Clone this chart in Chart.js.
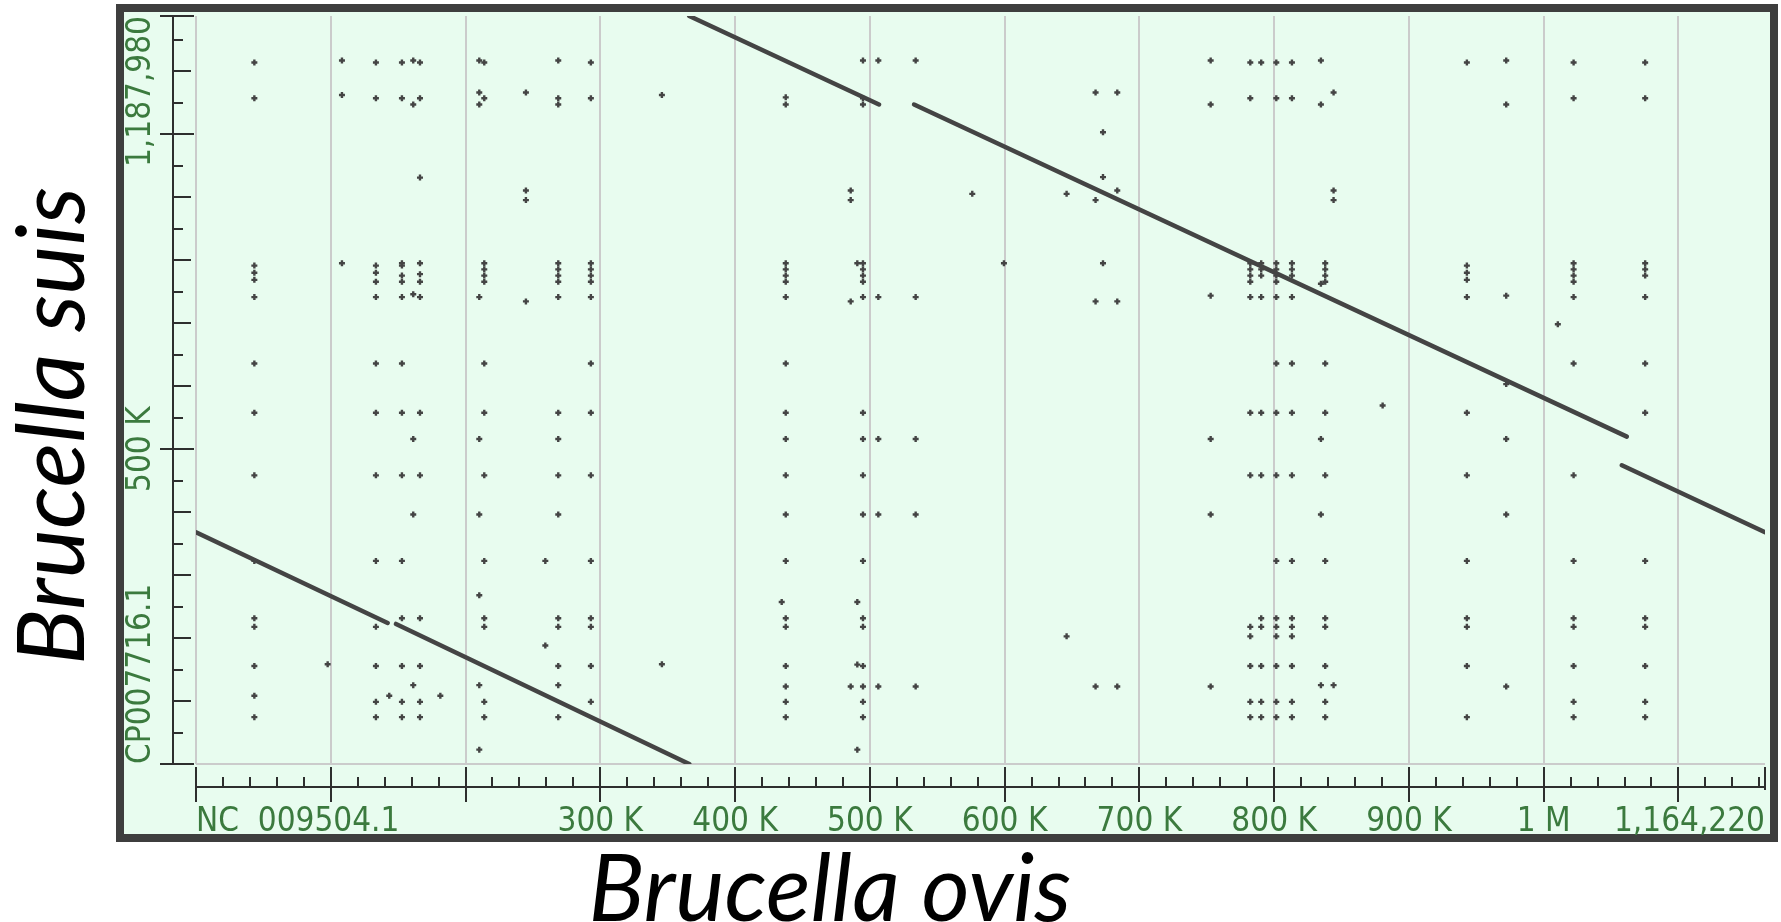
<!DOCTYPE html>
<html>
<head>
<meta charset="utf-8">
<script src="https://cdn.jsdelivr.net/npm/chart.js@4.4.1/dist/chart.umd.min.js"></script>
<style>
  html, body { margin: 0; padding: 0; background: #fff; }
  #wrap { width: 1781px; height: 922px; }
</style>
</head>
<body>
<div id="wrap"><canvas id="dotplot" width="1781" height="922"></canvas></div>
<script>
// genome lengths (kb)
const xMaxKb = 1164.22;   // NC_009504.1 (B. ovis)
const yMaxKb = 1187.98;   // CP007716.1 (B. suis)

// axis tick labels
const xLabelValues = [300, 400, 500, 600, 700, 800, 900, 1000];
const xLabelTexts = ["300 K", "400 K", "500 K", "600 K", "700 K", "800 K", "900 K", "1 M"];
const yLabelValues = [500];
const yLabelTexts = ["500 K"];

// alignment segments (kb)
const segX1 = [0, 148.4, 366.0, 532.8, 1058.0];
const segY1 = [368.1, 222.4, 1187.98, 1047.4, 474.4];
const segX2 = [142.2, 366.0, 506.8, 1061.7, 1164.22];
const segY2 = [223.9, 0, 1047.4, 519.9, 368.1];

// repeat hits: x position (kb) of each column and the y hits (kb) in it
const dotCols = [43.3, 97.7, 108.3, 133.5, 143.4, 152.8, 161.2, 166.2, 181.3, 210.2,
  213.9, 244.8, 259.2, 268.8, 293.0, 345.7, 434.6, 437.6, 485.8, 490.7,
  494.9, 506.3, 534.0, 576.0, 599.5, 646.0, 667.5, 673.0, 683.6, 752.9,
  782.3, 790.4, 801.6, 813.2, 834.7, 837.9, 844.1, 880.5, 943.0, 972.2,
  1010.5, 1022.2, 1075.3];
const dotRows = [
  [1114.2, 1057.3, 791.6, 780.3, 768.9, 741.5, 636.0, 557.9, 458.4, 322.6, 231.5, 217.8, 155.6, 108.5, 74.4],
  [158.5],
  [1117.2, 1062.6, 795.4],
  [1114.2, 1057.3, 791.6, 780.3, 765.8, 741.5, 636.0, 557.9, 458.4, 322.6, 217.8, 155.6, 98.7, 74.4],
  [108.5],
  [1114.2, 1057.3, 795.4, 791.6, 775.7, 765.8, 741.5, 636.0, 557.9, 458.4, 322.6, 231.5, 155.6, 98.7, 74.4],
  [1117.2, 1047.4, 746.1, 516.1, 396.2, 125.2],
  [1114.2, 1057.3, 931.3, 795.4, 778.0, 765.8, 741.5, 557.9, 458.4, 231.5, 155.6, 98.7, 74.4],
  [108.5],
  [1117.2, 1066.4, 1047.4, 741.5, 516.1, 396.2, 267.9, 125.2, 22.8],
  [1114.2, 1057.3, 795.4, 785.6, 775.7, 765.8, 636.0, 557.9, 458.4, 322.6, 231.5, 217.8, 98.7, 74.4],
  [1066.4, 910.8, 895.6, 734.7],
  [322.6, 188.2],
  [1117.2, 1057.3, 1047.4, 795.4, 785.6, 775.7, 765.8, 741.5, 557.9, 516.1, 458.4, 396.2, 231.5, 217.8, 155.6, 125.2, 74.4],
  [1114.2, 1057.3, 795.4, 785.6, 775.7, 765.8, 741.5, 636.0, 557.9, 458.4, 322.6, 231.5, 217.8, 155.6, 98.7],
  [1062.6, 158.5],
  [257.3],
  [1058.8, 1047.4, 795.4, 785.6, 775.7, 765.8, 741.5, 636.0, 557.9, 516.1, 458.4, 396.2, 322.6, 231.5, 217.8, 155.6, 123.0, 98.7, 74.4],
  [910.8, 895.6, 734.7, 123.0],
  [795.4, 257.3, 157.9, 22.8],
  [1117.2, 1057.3, 1047.4, 795.4, 785.6, 775.7, 765.8, 741.5, 557.9, 516.1, 458.4, 396.2, 322.6, 231.5, 217.8, 155.6, 123.0, 98.7, 74.4],
  [1117.2, 741.5, 516.1, 396.2, 123.0],
  [1117.2, 741.5, 516.1, 396.2, 123.0],
  [905.5],
  [795.4],
  [905.5, 202.7],
  [1066.4, 895.6, 734.7, 123.0],
  [1003.4, 932.1, 795.4],
  [1066.4, 910.8, 734.7, 123.0],
  [1117.2, 1047.4, 743.8, 516.1, 396.2, 123.0],
  [1114.2, 1057.3, 795.4, 785.6, 775.7, 765.8, 741.5, 557.9, 458.4, 217.8, 202.7, 155.6, 98.7, 74.4],
  [1114.2, 795.4, 785.6, 775.7, 741.5, 557.9, 458.4, 231.5, 217.8, 155.6, 98.7, 74.4],
  [1114.2, 1057.3, 795.4, 785.6, 775.7, 765.8, 741.5, 636.0, 557.9, 458.4, 322.6, 231.5, 217.8, 202.7, 155.6, 98.7, 74.4],
  [1114.2, 1057.3, 795.4, 785.6, 775.7, 741.5, 636.0, 557.9, 458.4, 322.6, 231.5, 217.8, 202.7, 155.6, 98.7, 74.4],
  [1117.2, 1047.4, 762.8, 516.1, 396.2, 125.2],
  [795.4, 785.6, 775.7, 765.8, 636.0, 557.9, 458.4, 322.6, 231.5, 217.8, 155.6, 98.7, 74.4],
  [1066.4, 910.8, 895.6, 125.2],
  [569.3],
  [1114.2, 791.6, 780.3, 768.9, 741.5, 557.9, 458.4, 322.6, 231.5, 217.8, 155.6, 74.4],
  [1117.2, 1047.4, 743.8, 603.4, 516.1, 396.2, 123.0],
  [698.3],
  [1114.2, 1057.3, 795.4, 785.6, 775.7, 765.8, 741.5, 636.0, 458.4, 322.6, 231.5, 217.8, 155.6, 98.7, 74.4],
  [1114.2, 1057.3, 795.4, 785.6, 775.7, 741.5, 636.0, 557.9, 322.6, 231.5, 217.8, 155.6, 98.7, 74.4]
];

const PAGE_BG = "#e8fcef";
const GRID = "#cbcbcb";
const INK = "#2e2e2e";
const LABEL = "#3b7a3e";
const MARK = "#444444";

const isMult = (v, s) => Math.abs(v / s - Math.round(v / s)) < 1e-6;

const dots = [];
dotCols.forEach((x, i) => dotRows[i].forEach(y => dots.push({ x, y })));

const datasets = segX1.map((x1, i) => ({
    type: "line",
    data: [{ x: x1, y: segY1[i] }, { x: segX2[i], y: segY2[i] }],
    borderColor: MARK,
    borderWidth: 4.5,
    borderCapStyle: "round",
    pointRadius: 0
}));
datasets.push({
    type: "scatter",
    data: dots,
    pointStyle: "cross",
    pointRadius: 3,
    borderWidth: 2.4,
    borderColor: MARK,
    backgroundColor: MARK
});

// white page, light green panel and dark frame
const framePlugin = {
    id: "framePlugin",
    beforeDraw(chart) {
        const ctx = chart.ctx, ca = chart.chartArea;
        ctx.save();
        ctx.fillStyle = "#ffffff";
        ctx.fillRect(0, 0, chart.width, chart.height);
        ctx.fillStyle = PAGE_BG;
        ctx.fillRect(ca.left - 80, ca.top - 12, ca.right - ca.left + 93, ca.bottom - ca.top + 90);
        ctx.restore();
    },
    afterDraw(chart) {
        const ctx = chart.ctx, ca = chart.chartArea;
        ctx.save();
        ctx.strokeStyle = "#3e3e3e";
        ctx.lineWidth = 8;
        ctx.strokeRect(ca.left - 76, ca.top - 8, ca.right - ca.left + 85, ca.bottom - ca.top + 82);
        ctx.restore();
    }
};

// ruler axes offset from the plot, with labels and species titles
const rulerPlugin = {
    id: "rulerPlugin",
    afterDraw(chart) {
        const ctx = chart.ctx, ca = chart.chartArea;
        const xs = chart.scales.x, ys = chart.scales.y;
        ctx.save();
        ctx.strokeStyle = INK;
        ctx.lineWidth = 2;
        const seg = (x1, y1, x2, y2) => {
            ctx.beginPath(); ctx.moveTo(x1, y1); ctx.lineTo(x2, y2); ctx.stroke();
        };

        // y ruler
        const ax = ca.left - 23;
        seg(ax, ys.getPixelForValue(yMaxKb), ax, ys.getPixelForValue(0));
        for (let v = 0; v <= yMaxKb; v += 50) {
            const py = Math.round(ys.getPixelForValue(v));
            if (isMult(v, 500)) seg(ax - 13, py, ax + 21, py);
            else if (isMult(v, 100)) seg(ax, py, ax + 18, py);
            else seg(ax, py, ax + 10, py);
        }
        seg(ax - 13, ys.getPixelForValue(yMaxKb), ax + 21, ys.getPixelForValue(yMaxKb));

        // x ruler
        const ay = ca.bottom + 23;
        seg(xs.getPixelForValue(0), ay, xs.getPixelForValue(xMaxKb), ay);
        for (let v = 0; v <= xMaxKb; v += 20) {
            const px = Math.round(xs.getPixelForValue(v));
            if (isMult(v, 100)) seg(px, ay - 20, px, ay + 15);
            else seg(px, ay - 10, px, ay);
        }
        seg(xs.getPixelForValue(xMaxKb), ay - 20, xs.getPixelForValue(xMaxKb), ay + 3);

        // tick labels
        ctx.fillStyle = LABEL;
        ctx.font = '33px "DejaVu Sans Condensed", "DejaVu Sans"';
        ctx.textBaseline = "alphabetic";
        const by = ay + 44;
        ctx.textAlign = "left";
        ctx.fillText("NC  009504.1", xs.getPixelForValue(0), by);
        ctx.textAlign = "center";
        xLabelValues.forEach((v, i) => ctx.fillText(xLabelTexts[i], xs.getPixelForValue(v), by));
        ctx.textAlign = "right";
        ctx.fillText("1,164,220", xs.getPixelForValue(xMaxKb), by);

        const yText = (txt, py, align) => {
            ctx.save();
            ctx.translate(ca.left - 46, py);
            ctx.rotate(-Math.PI / 2);
            ctx.textAlign = align;
            ctx.fillText(txt, 0, 0);
            ctx.restore();
        };
        yText("1,187,980", ys.getPixelForValue(yMaxKb), "right");
        yLabelValues.forEach((v, i) => yText(yLabelTexts[i], ys.getPixelForValue(v), "center"));
        yText("CP007716.1", ys.getPixelForValue(0), "left");

        // species titles
        ctx.fillStyle = "#000000";
        ctx.font = 'italic 93px Lato, "Open Sans", sans-serif';
        ctx.textAlign = "center";
        ctx.fillText("Brucella ovis", 830, chart.height - 1);
        ctx.save();
        ctx.translate(84, 426);
        ctx.rotate(-Math.PI / 2);
        ctx.fillText("Brucella suis", 0, 0);
        ctx.restore();
        ctx.restore();
    }
};

new Chart(document.getElementById("dotplot"), {
    type: "scatter",
    data: { datasets },
    options: {
        responsive: false,
        devicePixelRatio: 1,
        animation: false,
        events: [],
        layout: { padding: { left: 196, right: 16, top: 16, bottom: 158 } },
        plugins: { legend: { display: false }, tooltip: { enabled: false } },
        scales: {
            x: {
                type: "linear",
                min: 0,
                max: xMaxKb,
                ticks: { display: false, stepSize: 100 },
                grid: {
                    color: c => (c.tick && isMult(c.tick.value, 100)) ? GRID : "transparent",
                    lineWidth: 2,
                    drawTicks: false
                },
                border: { display: false },
                afterFit: s => { s.height = 0; }
            },
            y: {
                type: "linear",
                min: 0,
                max: yMaxKb,
                ticks: { display: false, stepSize: 200 },
                grid: {
                    color: c => (c.tick && isMult(c.tick.value, 200)) ? GRID : "transparent",
                    lineWidth: 2,
                    drawTicks: false
                },
                border: { display: false },
                afterFit: s => { s.width = 0; }
            }
        }
    },
    plugins: [framePlugin, rulerPlugin]
});
</script>
</body>
</html>
